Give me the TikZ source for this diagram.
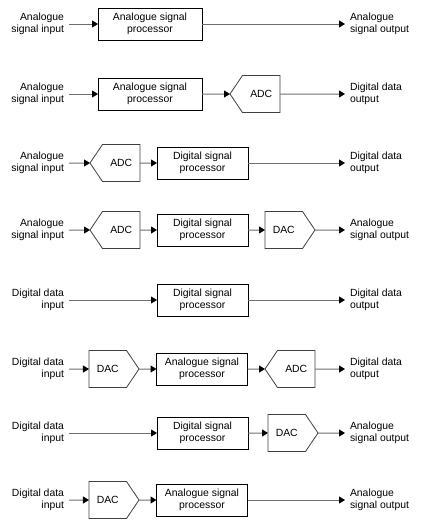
\documentclass[tikz,border=0pt]{standalone}
\usepackage{fontspec}
\setmainfont{Liberation Sans}
\usetikzlibrary{arrows.meta,shapes.symbols}
\definecolor{linegray}{RGB}{110,110,110}
\begin{document}
\begin{tikzpicture}[x=1pt,y=-1pt,
  every node/.style={font=\fontsize{10.4}{12.6}\selectfont},
  proc/.style={draw=black,line width=0.8pt,minimum width=91pt,minimum height=32pt,inner sep=0pt,outer sep=0pt,align=center},
  wideproc/.style={proc,minimum width=104pt},
  adc/.style={draw=black!75,line width=0.8pt,signal,signal to=west,signal pointer angle=112,minimum width=50pt,minimum height=37pt,inner sep=0pt,outer sep=0pt},
  dac/.style={draw=black!75,line width=0.8pt,signal,signal to=east,signal pointer angle=112,minimum width=50pt,minimum height=37pt,inner sep=0pt,outer sep=0pt},
  inlab/.style={anchor=east,align=right,inner sep=0pt,outer sep=5pt},
  outlab/.style={anchor=west,align=left,inner sep=0pt,outer sep=5pt},
  conn/.style={draw=linegray,line width=1pt,-{Triangle[length=6pt,width=7pt,color=black]}}
]
\useasboundingbox (0,0) rectangle (432,530);
% Row 1
\node[inlab] (i1) at (69,24) {Analogue\\signal input};
\node[wideproc] (p1) at (150,24) {Analogue signal\\processor};
\node[outlab] (o1) at (345,24) {Analogue\\signal output};
\draw[conn] (i1) -- (p1);
\draw[conn] (p1) -- (o1);
% Row 2
\node[inlab] (i2) at (69,94) {Analogue\\signal input};
\node[wideproc] (p2) at (150,94) {Analogue signal\\processor};
\node[adc,anchor=east] (a2) at (280,94) {ADC};
\node[outlab] (o2) at (345,94) {Digital data\\output};
\draw[conn] (i2) -- (p2);
\draw[conn] (p2) -- (a2);
\draw[conn] (a2) -- (o2);
% Row 3
\node[inlab] (i3) at (69,163) {Analogue\\signal input};
\node[adc,anchor=east] (a3) at (140,163) {ADC};
\node[proc] (p3) at (202.5,163) {Digital signal\\processor};
\node[outlab] (o3) at (345,163) {Digital data\\output};
\draw[conn] (i3) -- (a3);
\draw[conn] (a3) -- (p3);
\draw[conn] (p3) -- (o3);
% Row 4
\node[inlab] (i4) at (69,230) {Analogue\\signal input};
\node[adc,anchor=east] (a4) at (140,230) {ADC};
\node[proc] (p4) at (202.5,230) {Digital signal\\processor};
\node[dac,anchor=west] (d4) at (265,230) {DAC};
\node[outlab] (o4) at (345,230) {Analogue\\signal output};
\draw[conn] (i4) -- (a4);
\draw[conn] (a4) -- (p4);
\draw[conn] (p4) -- (d4);
\draw[conn] (d4) -- (o4);
% Row 5
\node[inlab] (i5) at (69,300) {Digital data\\input};
\node[proc] (p5) at (202.5,300) {Digital signal\\processor};
\node[outlab] (o5) at (345,300) {Digital data\\output};
\draw[conn] (i5) -- (p5);
\draw[conn] (p5) -- (o5);
% Row 6
\node[inlab] (i6) at (69,369) {Digital data\\input};
\node[dac,anchor=west] (d6) at (89,369) {DAC};
\node[proc] (p6) at (202,369) {Analogue signal\\processor};
\node[adc,anchor=east] (a6) at (315,369) {ADC};
\node[outlab] (o6) at (345,369) {Digital data\\output};
\draw[conn] (i6) -- (d6);
\draw[conn] (d6) -- (p6);
\draw[conn] (p6) -- (a6);
\draw[conn] (a6) -- (o6);
% Row 7
\node[inlab] (i7) at (69,433) {Digital data\\input};
\node[proc] (p7) at (202.5,433) {Digital signal\\processor};
\node[dac,anchor=west] (d7) at (268,433) {DAC};
\node[outlab] (o7) at (345,433) {Analogue\\signal output};
\draw[conn] (i7) -- (p7);
\draw[conn] (p7) -- (d7);
\draw[conn] (d7) -- (o7);
% Row 8
\node[inlab] (i8) at (69,500) {Digital data\\input};
\node[dac,anchor=west] (d8) at (89,500) {DAC};
\node[proc] (p8) at (202,500) {Analogue signal\\processor};
\node[outlab] (o8) at (345,500) {Analogue\\signal output};
\draw[conn] (i8) -- (d8);
\draw[conn] (d8) -- (p8);
\draw[conn] (p8) -- (o8);
\end{tikzpicture}
\end{document}
